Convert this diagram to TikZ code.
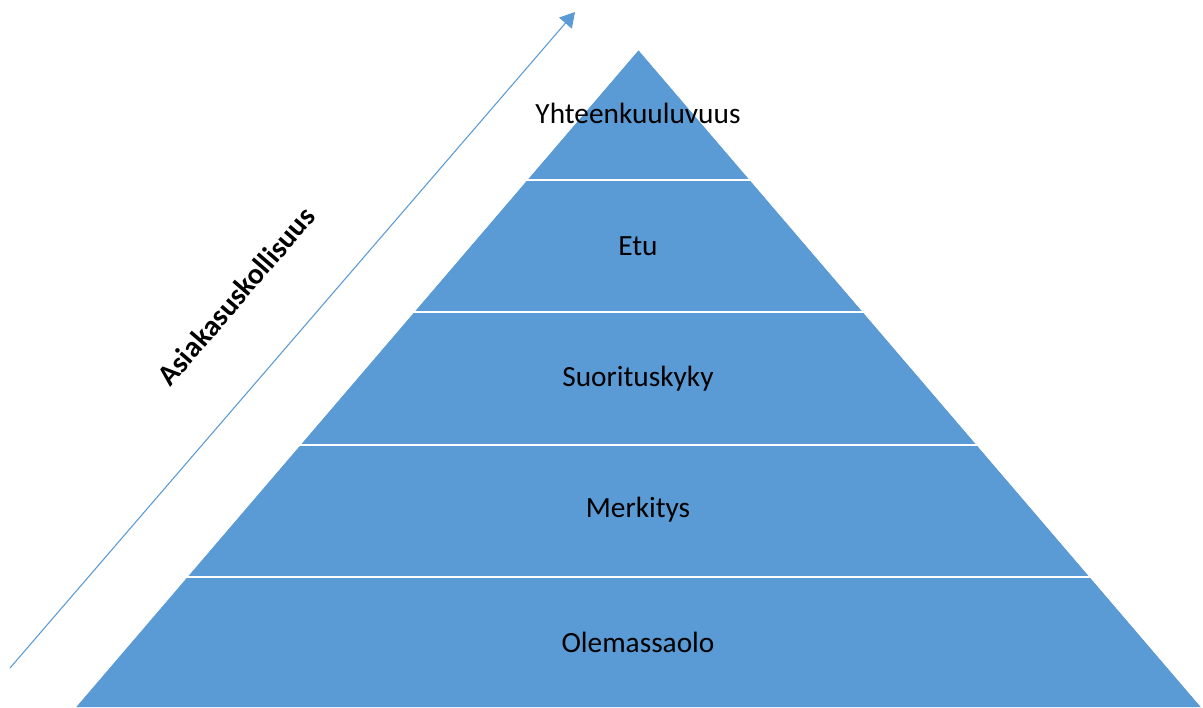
\documentclass[tikz,border=0pt]{standalone}
\usepackage{fontspec}
\setmainfont{Carlito}
\usepackage{tikz}
\usetikzlibrary{arrows.meta}

\definecolor{pyrblue}{HTML}{5B9BD5}

\begin{document}
\begin{tikzpicture}[x=0.75pt,y=-0.75pt,
    layer/.style={font=\fontsize{22}{26}\selectfont, text=black},
    gap/.style={draw=white, line width=2pt}]
  \useasboundingbox (0,0) rectangle (1203,707);
  % pyramid
  \coordinate (apex) at (638.5,50);
  \coordinate (bl) at (76,707);
  \coordinate (br) at (1201,707);
  \fill[pyrblue] (apex) -- (br) -- (bl) -- cycle;
  \foreach \y in {180,312,445,577}
    \draw[gap] (0,\y) -- (1203,\y);
  % cover the white lines outside the pyramid
  \fill[white] (apex) -- (bl) -- (0,707) -- (0,0) -- (1203,0) -- (1203,707) -- (br) -- cycle;
  \node[layer] (l1) at (638,113) {Yhteenkuuluvuus};
  \node[layer] (l2) at (638,246) {Etu};
  \node[layer] (l3) at (638,379) {Suorituskyky};
  \node[layer] (l4) at (638,510) {Merkitys};
  \node[layer] (l5) at (638,642) {Olemassaolo};
  % arrow
  \coordinate (a0) at (10,668);
  \coordinate (a1) at (575,12);
  \draw[pyrblue, line width=0.8pt, -{Triangle[length=11pt,width=12.5pt]}] (a0) -- (a1);
  \node[font=\fontsize{22}{26}\selectfont\bfseries, rotate=49.3] (lab) at (236,296) {Asiakasuskollisuus};
\end{tikzpicture}
\end{document}
